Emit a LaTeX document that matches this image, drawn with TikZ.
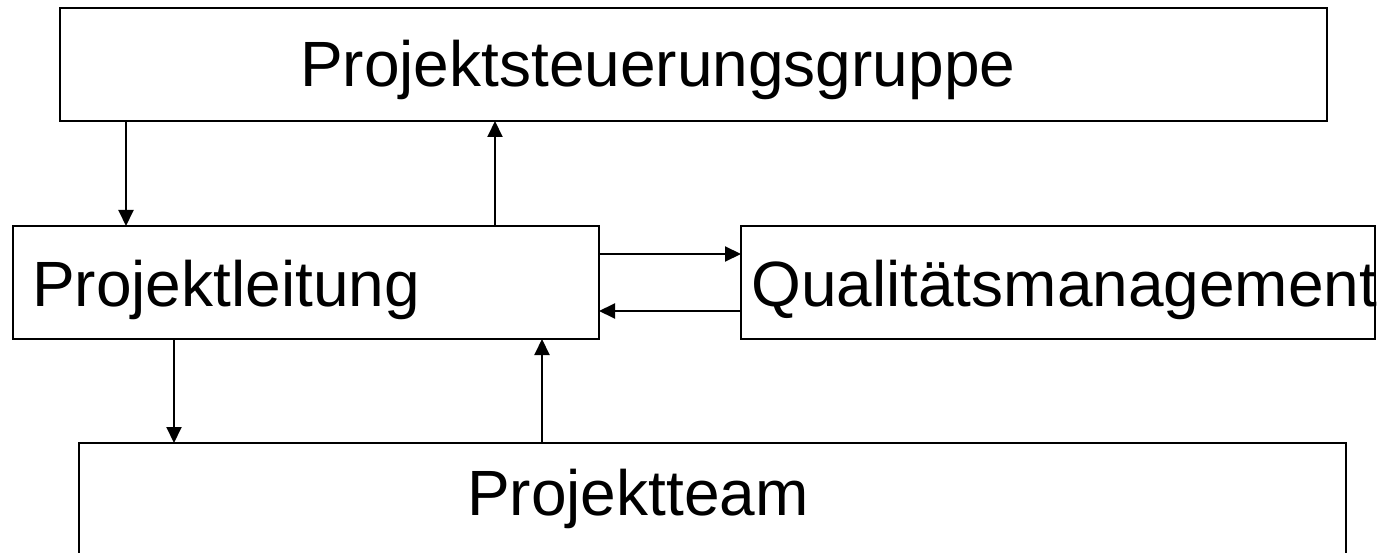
\documentclass[tikz,border=0pt]{standalone}
\usepackage{fontspec}
\setmainfont{Liberation Sans}
\usetikzlibrary{arrows.meta}
\begin{document}
\begin{tikzpicture}[x=1pt,y=1pt,
  box/.style={draw=black,line width=2pt,inner sep=0pt,outer sep=0pt,rectangle},
  lbl/.style={anchor=base west,inner sep=0pt,font=\fontsize{64}{76}\selectfont},
  arr/.style={line width=2pt,-{Triangle[length=16pt,width=15pt]}}]
\useasboundingbox (0,0) rectangle (1381,-553);
\node[box,minimum width=1267pt,minimum height=113pt] (A) at (693.5,-64.5) {};
\node[box,minimum width=586pt,minimum height=113pt] (B) at (306,-282.5) {};
\node[box,minimum width=634pt,minimum height=113pt] (C) at (1058,-282.5) {};
\node[box,minimum width=1267pt,minimum height=157pt] (D) at (712.5,-521.5) {};
\node[lbl] (tA) at (300,-87) {Projektsteuerungsgruppe};
\node[lbl] (tB) at (32,-306) {Projektleitung};
\node[lbl] (tC) at (751,-306) {Qualitätsmanagement};
\node[lbl] (tD) at (467,-515) {Projektteam};
\coordinate (x1) at (126,0);
\coordinate (x2) at (495,0);
\coordinate (x3) at (174,0);
\coordinate (x4) at (542,0);
\coordinate (y1) at (0,-254);
\coordinate (y2) at (0,-311);
\draw[arr] (A.south -| x1) -- (B.north -| x1);
\draw[arr] (B.north -| x2) -- (A.south -| x2);
\draw[arr] (B.east |- y1) -- (C.west |- y1);
\draw[arr] (C.west |- y2) -- (B.east |- y2);
\draw[arr] (B.south -| x3) -- (D.north -| x3);
\draw[arr] (D.north -| x4) -- (B.south -| x4);
\end{tikzpicture}
\end{document}
